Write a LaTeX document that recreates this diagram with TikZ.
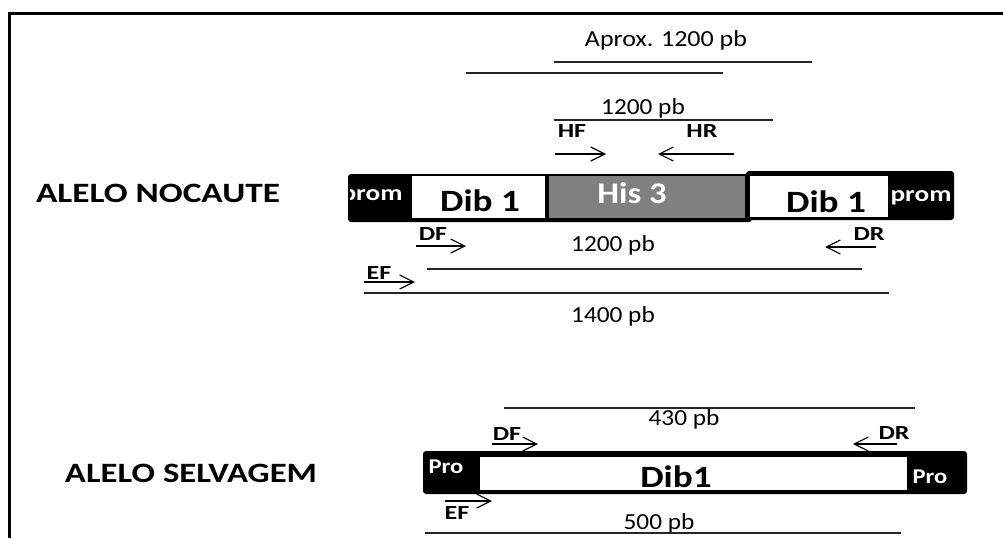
\documentclass[tikz,border=0pt]{standalone}
\usepackage{fontspec}
\setmainfont{Carlito}
\usetikzlibrary{arrows.meta}
\newcommand{\tx}[3]{\scalebox{#2}[1]{\fontsize{#1}{#1}\selectfont #3}}
\tikzset{
  txt/.style={inner sep=0pt, outer sep=0pt},
  framel/.style={line width=3pt},
  spanl/.style={line width=1.6pt, draw=black!85},
  primer/.style={line width=1.2pt, -{Straight Barb[length=14pt,width=14pt,line width=1.2pt]}},
  blk/.style={fill=black, rounded corners=3pt, inner sep=0pt, outer sep=0pt, anchor=north west},
  wbox/.style={fill=white, inner sep=0pt, outer sep=0pt, anchor=north west},
  gbox/.style={fill=black!50, inner sep=0pt, outer sep=0pt, anchor=north west},
}
\begin{document}
\begin{tikzpicture}[x=1pt,y=-1pt]
\useasboundingbox (0,0) rectangle (1003,538);
% frame
\draw[framel] (9,538) -- (9,13) -- (1003,13);

% labels
\node[txt] (lko) at (158,193) {\tx{28}{1.26}{\bfseries ALELO NOCAUTE}};
\node[txt] (lwt) at (191,473) {\tx{28}{1.24}{\bfseries ALELO SELVAGEM}};

% top spans
\node[txt] (aprox) at (666,40) {\tx{23}{1.13}{Aprox. 1200 pb}};
\draw[spanl] (554,62) -- (812,62);
\draw[spanl] (466,73) -- (723,73);
\node[txt] (t1200a) at (643,108) {\tx{23}{1.1}{1200 pb}};
\draw[spanl] (554,120) -- (773,120);
\node[txt] (hf) at (572,131) {\tx{20}{1.3}{\bfseries HF}};
\node[txt] (hr) at (702,131) {\tx{20}{1.3}{\bfseries HR}};
\draw[primer] (555,154) -- (606,154);
\draw[primer] (734,154) -- (658,154);

% knockout allele bar
\node[blk, minimum width=208pt, minimum height=49pt] (koR) at (746,171) {};
\node[blk, minimum width=404pt, minimum height=48pt] (koL) at (348,174) {};
\node[wbox, minimum width=133pt, minimum height=42pt] (dibL) at (412,176) {};
\node[gbox, minimum width=196pt, minimum height=42pt] (his) at (549,176) {};
\node[wbox, minimum width=138pt, minimum height=41pt] (dibR) at (750,176) {};
\begin{scope}
\clip (350,172) rectangle (412,222);
\node[txt, text=white] (promL) at (372,197) {\tx{22}{1.24}{\bfseries prom}};
\end{scope}
\node[txt] (dibLt) at (480,201) {\tx{31}{1.2}{\bfseries Dib 1}};
\node[txt, text=white] (hist) at (632,193) {\tx{30}{1.15}{\bfseries His 3}};
\node[txt] (dibRt) at (826,202) {\tx{31}{1.2}{\bfseries Dib 1}};
\node[txt, text=white] (promR) at (921,198) {\tx{22}{1.24}{\bfseries prom}};

% knockout primers and spans
\node[txt] (df1) at (433,234) {\tx{20}{1.3}{\bfseries DF}};
\draw[primer] (416,246) -- (466,246);
\node[txt] (t1200b) at (613,245) {\tx{23}{1.1}{1200 pb}};
\node[txt] (dr1) at (869,234) {\tx{20}{1.3}{\bfseries DR}};
\draw[primer] (876,247) -- (825,247);
\draw[spanl] (427,269) -- (862,269);
\node[txt] (ef1) at (379,273) {\tx{20}{1.3}{\bfseries EF}};
\draw[primer] (364,282) -- (415,282);
\draw[spanl] (364,293) -- (889,293);
\node[txt] (t1400) at (613,316) {\tx{23}{1.1}{1400 pb}};

% wild-type allele
\draw[spanl] (504,408) -- (915,408);
\node[txt] (t430) at (684,419) {\tx{23}{1.1}{430 pb}};
\node[txt] (df2) at (507,434) {\tx{20}{1.3}{\bfseries DF}};
\draw[primer] (492,444) -- (538,444);
\node[txt] (dr2) at (894,433) {\tx{20}{1.3}{\bfseries DR}};
\draw[primer] (897,444) -- (853,444);
\node[blk, minimum width=544pt, minimum height=43pt] (wt) at (423,451) {};
\node[wbox, minimum width=427pt, minimum height=33pt] (dibW) at (480,457) {};
\node[txt, text=white] (proL) at (446,467) {\tx{21}{1.17}{\bfseries Pro}};
\node[txt, text=white] (proR) at (930,477) {\tx{21}{1.17}{\bfseries Pro}};
\node[txt] (dibWt) at (676,477) {\tx{31}{1.2}{\bfseries Dib1}};
\draw[primer] (445,501) -- (492,501);
\node[txt] (ef2) at (457,513) {\tx{20}{1.3}{\bfseries EF}};
\node[txt] (t500) at (659,523) {\tx{23}{1.1}{500 pb}};
\draw[spanl] (425,533) -- (901,533);
\end{tikzpicture}
\end{document}
